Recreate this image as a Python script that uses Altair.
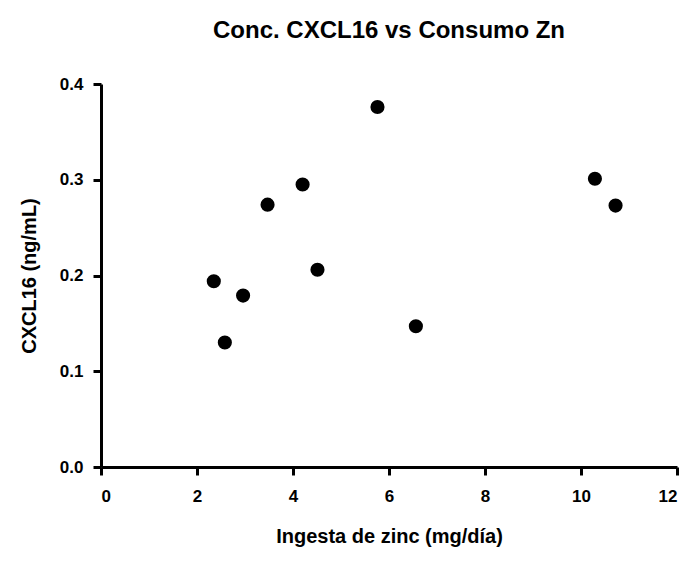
import altair as alt
import pandas as pd

zinc = [2.35, 2.58, 2.96, 3.47, 4.20, 4.51, 5.76, 6.56, 10.29, 10.72]
cxcl16 = [0.194, 0.130, 0.179, 0.274, 0.295, 0.206, 0.376, 0.147, 0.301, 0.273]
x_ticks = [0, 2, 4, 6, 8, 10, 12]
y_ticks = [0.0, 0.1, 0.2, 0.3, 0.4]

df = pd.DataFrame({"zinc": zinc, "cxcl16": cxcl16})

FONT = "Liberation Sans"

chart = alt.Chart(df).mark_circle(size=200, color="black", opacity=1).encode(
    x=alt.X("zinc:Q",
            scale=alt.Scale(domain=[0, 12], nice=False, zero=True),
            axis=alt.Axis(values=x_ticks, format="d", grid=False,
                          title="Ingesta de zinc (mg/día)",
                          labelPadding=13, titlePadding=22)),
    y=alt.Y("cxcl16:Q",
            scale=alt.Scale(domain=[0, 0.4], nice=False, zero=True),
            axis=alt.Axis(values=y_ticks, format=".1f", grid=False,
                          title="CXCL16 (ng/mL)",
                          labelPadding=10, titlePadding=20)),
).properties(
    width=576,
    height=383,
    background="white",
    title=alt.TitleParams("Conc. CXCL16 vs Consumo Zn", font=FONT, fontSize=24,
                          fontWeight="bold", color="black", offset=32, anchor="middle"),
    autosize=alt.AutoSizeParams(type="none"),
    padding={"left": 101, "top": 84, "right": 15, "bottom": 94},
).configure_view(
    stroke=None
).configure_axis(
    domainWidth=3, domainColor="black",
    tickWidth=3, tickColor="black", tickSize=8,
    labelFont=FONT, labelFontSize=17, labelFontWeight="bold", labelColor="black",
    titleFont=FONT, titleFontSize=20, titleFontWeight="bold", titleColor="black",
)

chart.save("out.html", embed_options={"renderer": "svg", "actions": False})
